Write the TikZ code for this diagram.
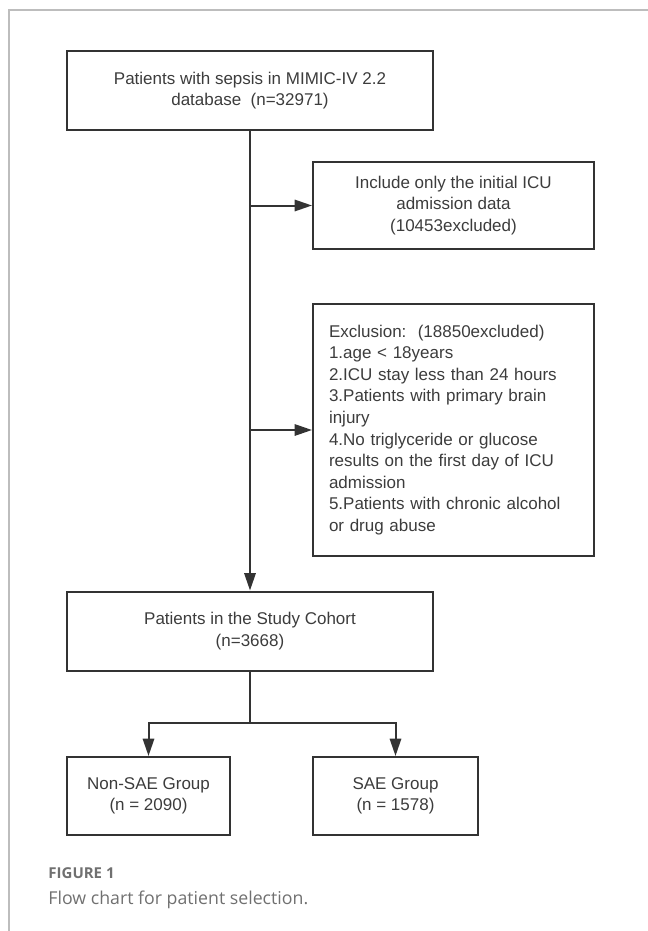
\documentclass[tikz,border=0pt]{standalone}
\usepackage{fontspec}
\setmainfont{Liberation Sans}
\newfontfamily\capfont{Open Sans}
\usepackage{tikz}
\usetikzlibrary{arrows.meta}
\definecolor{boxline}{HTML}{333333}
\definecolor{boxtext}{HTML}{3C3C3C}
\definecolor{framegray}{HTML}{BDBDBD}
\definecolor{capgray}{HTML}{707070}
\newcommand{\fcfont}{\fontsize{12.75}{16.2}\selectfont}
\newcommand{\fcbox}[5] {\node at (#1) (#2) [draw=boxline, text=boxtext, minimum width=#3, minimum height=#4, align=center, font=\fcfont] {#5};}
\newcommand{\fclistbox}[6] {\node at (#1) (#2) [draw=boxline, text=boxtext, minimum width=#3, minimum height=#4, text width=#5, align=left, font=\fcfont] {#6};}
\newcommand{\fcdownarrow}[2] {\draw [->] (#1.south) -- (#2.north);}
\newcommand{\fcsidearrow}[2] {\draw [->] (#1.south |- #2.west) -- (#2.west);}

\begin{document}
\begin{tikzpicture}[x=0.75pt, y=-0.75pt, line width=1.5pt, draw=boxline,
  >={Triangle[length=13pt, width=8.5pt]}]
\useasboundingbox (0,0) rectangle (648,931);
\draw [framegray, line width=0.9pt] (648,10) -- (9,10) -- (9,931);

\fcbox {250,90.5} {allsepsis} {274.5pt} {59.25pt} {Patients with sepsis in MIMIC-IV 2.2\\database\ \ (n=32971)};
\fcbox {453.5,205.5} {firsticu} {210.75pt} {65.25pt} {Include only the initial ICU\\admission data\\(10453excluded)};
\fclistbox {453.5,430} {exclusion} {210.75pt} {189pt} {186.75pt} {Exclusion:\ \ (18850excluded)\\1.age < 18years\\2.ICU stay less than 24 hours\\3.Patients with primary brain\\injury\\4.No triglyceride or glucose\\results on the first day of ICU\\admission\\5.Patients with chronic alcohol\\or drug abuse};
\fcbox {250,631} {cohort} {274.5pt} {59.25pt} {Patients in the Study Cohort\\(n=3668)};
\fcbox {148.5,796} {nonsae} {122.25pt} {58.5pt} {Non-SAE Group\\(n = 2090)};
\fcbox {395.5,796} {sae} {123.75pt} {58.5pt} {SAE Group\\(n = 1578)};
\coordinate (split) at (250,723);

\fcdownarrow{allsepsis}{cohort};
\fcsidearrow{allsepsis}{firsticu};
\fcsidearrow{allsepsis}{exclusion};
\draw (cohort.south) -- (split);
\draw [->] (split) -| (nonsae.north);
\draw [->] (split) -| (sae.north);

\node (figlabel) at (43,878) [anchor=base west, text=capgray, font=\capfont\bfseries\fontsize{11.25}{13}\selectfont] {FIGURE 1};
\node (figcaption) at (43,904) [anchor=base west, text=capgray, font=\capfont\fontsize{13.3}{16}\selectfont] {Flow chart for patient selection.};
\end{tikzpicture}
\end{document}
